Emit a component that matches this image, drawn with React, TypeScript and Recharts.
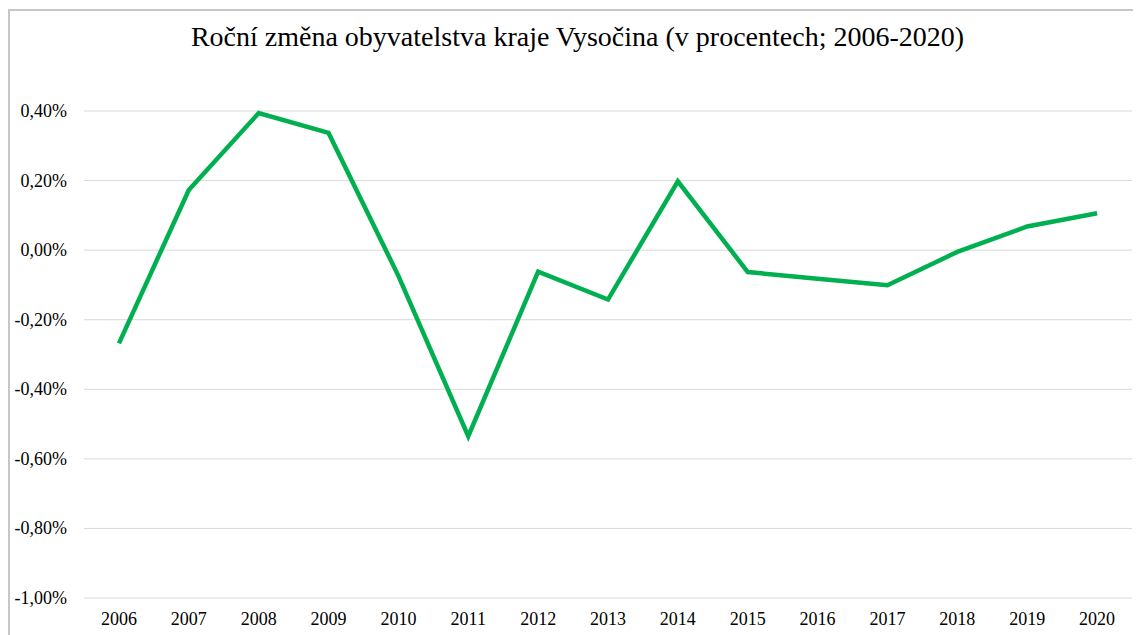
import { LineChart, Line, XAxis, YAxis, CartesianGrid } from "recharts";

const years = [
  "2006", "2007", "2008", "2009", "2010", "2011", "2012", "2013",
  "2014", "2015", "2016", "2017", "2018", "2019", "2020",
];

// roční změna v procentech
const change = [
  -0.268, 0.173, 0.394, 0.337, -0.074, -0.535, -0.062, -0.142,
  0.198, -0.063, -0.082, -0.101, -0.005, 0.068, 0.106,
];

const yTicks = [-1, -0.8, -0.6, -0.4, -0.2, 0, 0.2, 0.4];

const data = years.map((year, i) => ({ year, value: change[i] }));

const fmt = (v: number) => v.toFixed(2).replace(".", ",") + "%";

const font = "'Liberation Serif', serif";

const XTick = (props: any) => {
  const { x, y, payload } = props;
  return (
    <text x={x} y={y + 19} textAnchor="middle" fill="#000" fontSize={18} style={{ fontFamily: font }}>
      {payload.value}
    </text>
  );
};

const YTick = (props: any) => {
  const { y, payload } = props;
  return (
    <text x={57} y={y + 6} textAnchor="end" fill="#000" fontSize={18} style={{ fontFamily: font }}>
      {fmt(payload.value)}
    </text>
  );
};

export default function App() {
  return (
    <div
      style={{
        position: "relative",
        marginTop: 1,
        width: 1131,
        height: 624,
        borderLeft: "2px solid #c6c6c6",
        borderTop: "2px solid #c6c6c6",
        fontFamily: font,
        background: "#fff",
      }}
    >
      <div
        style={{
          position: "absolute",
          left: 0,
          width: 1135,
          top: 10,
          textAlign: "center",
          fontSize: 28,
          lineHeight: "normal",
          color: "#000",
        }}
      >
        Roční změna obyvatelstva kraje Vysočina (v procentech; 2006-2020)
      </div>
      <LineChart
        width={1131}
        height={624}
        data={data}
        margin={{ top: 100, right: 9, left: 0, bottom: 7 }}
        style={{ fontFamily: font }}
      >
        <CartesianGrid vertical={false} stroke="#d9d9d9" strokeWidth={1} />
        <XAxis
          dataKey="year"
          scale="band"
          axisLine={false}
          tickLine={false}
          height={30}
          interval={0}
          tick={<XTick />}
        />
        <YAxis
          domain={[-1, 0.4]}
          ticks={yTicks}
          axisLine={false}
          tickLine={false}
          width={74}
          tick={<YTick />}
        />
        <Line
          type="linear"
          dataKey="value"
          stroke="#00b050"
          strokeWidth={4.5}
          dot={false}
          isAnimationActive={false}
        />
      </LineChart>
    </div>
  );
}
